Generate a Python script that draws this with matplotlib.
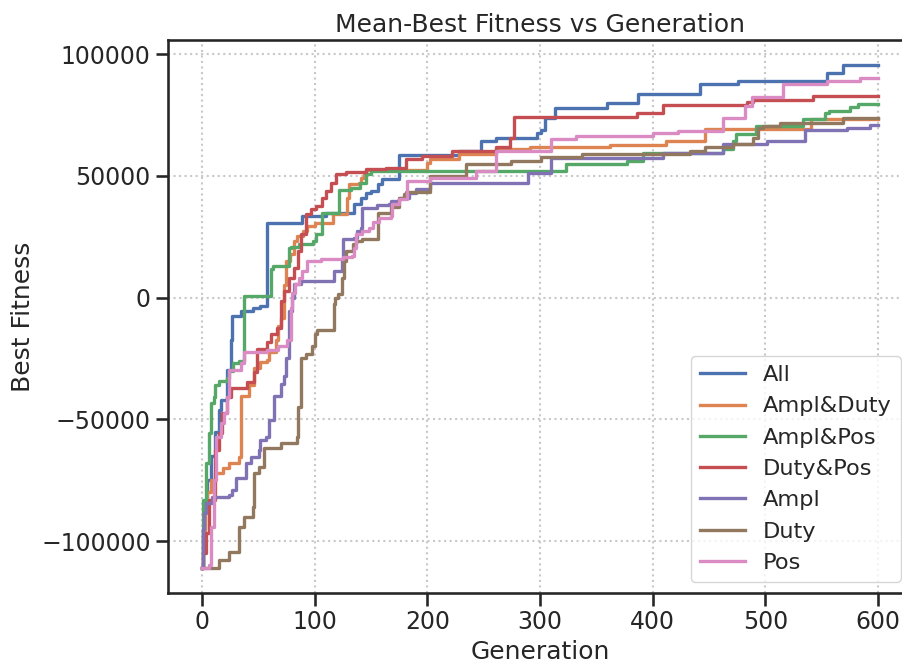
import matplotlib
matplotlib.use("Agg")
import matplotlib.pyplot as plt

# step breakpoints (generation, mean best fitness) for each parameter set
gen_all = [0, 1, 3, 5, 8, 12, 15, 17, 22, 26, 27, 35, 45, 52, 58, 89, 110, 135, 141, 146,
           150, 156, 160, 175, 228, 248, 261, 297, 301, 304, 313, 359, 387, 442, 476, 555, 569, 600]
fit_all = [-111000, -95000, -83000, -75000, -65000, -55000, -46300, -42000, -29900, -17600, -7400,
           -5300, -4100, -3300, 30500, 33600, 34800, 38500, 41000, 43000, 44000, 46700, 48800,
           58600, 60200, 64300, 65600, 67600, 69000, 73900, 77900, 79900, 83600, 87700, 88900,
           92200, 95500, 95500]

gen_ampl_duty = [0, 1, 3, 5, 8, 12, 19, 24, 33, 35, 42, 46, 52, 58, 60, 66, 68, 70, 73, 75, 78,
                 82, 84, 90, 93, 100, 116, 129, 131, 139, 141, 144, 146, 200, 202, 228, 261, 291,
                 362, 412, 446, 540, 600]
fit_ampl_duty = [-111000, -97000, -86000, -80000, -75000, -72000, -70000, -68000, -65600, -40200,
                 -36000, -28700, -26600, -25800, -22500, -17600, -11500, -8200, 5000, 15200, 18000,
                 23400, 25400, 27500, 29500, 30700, 34400, 41000, 46700, 47100, 49200, 50800,
                 52500, 55300, 57000, 59000, 61000, 61900, 62700, 64300, 69200, 73500, 73500]

gen_ampl_pos = [0, 1, 4, 6, 8, 11, 12, 15, 22, 24, 28, 33, 37, 61, 63, 77, 79, 86, 99, 101, 107,
                122, 132, 140, 146, 150, 323, 377, 391, 462, 471, 474, 492, 533, 553, 556, 575,
                582, 600]
fit_ampl_pos = [-111000, -83000, -68000, -55700, -43400, -41000, -36000, -34400, -33000, -30000,
                -27000, -26000, 800, 11900, 13100, 20500, 21000, 22100, 23400, 26200, 34800,
                44300, 45000, 47100, 50800, 52000, 54900, 56100, 59400, 61000, 64300, 67200,
                70500, 73400, 75800, 76500, 78300, 79500, 79500]

gen_duty_pos = [0, 1, 4, 6, 12, 15, 18, 22, 26, 40, 46, 49, 58, 61, 67, 70, 73, 77, 82, 85, 88,
                92, 97, 101, 107, 110, 115, 119, 128, 146, 163, 181, 195, 222, 261, 273, 277,
                386, 409, 484, 489, 542, 600]
fit_duty_pos = [-111000, -105000, -96700, -83000, -62700, -55700, -47500, -41000, -37300, -34800,
                -30700, -20900, -18400, -14800, -12300, -1200, 2900, 8200, 12300, 19300, 26200,
                34400, 36500, 37700, 41000, 43800, 47100, 50800, 51600, 52900, 53300, 57000,
                58200, 60200, 61900, 65600, 74200, 75800, 79100, 80300, 81100, 82800, 82800]

gen_ampl = [0, 1, 2, 4, 9, 24, 27, 30, 39, 44, 51, 52, 57, 60, 64, 70, 73, 75, 77, 80, 82, 88,
            117, 124, 125, 135, 138, 141, 142, 155, 166, 168, 175, 184, 190, 202, 289, 310, 409,
            462, 501, 535, 572, 593, 600]
fit_ampl = [-111000, -95000, -88500, -84400, -82000, -81100, -79000, -74200, -68000, -65600,
            -62700, -58600, -57400, -50400, -40200, -35300, -32000, -25000, -5300, 0, 5700, 7000,
            11100, 15200, 24200, 24600, 27500, 28700, 36900, 38100, 38500, 39800, 41000, 43000,
            44700, 47100, 51200, 57400, 59400, 63100, 64300, 68800, 69600, 70900, 70900]

gen_duty = [0, 15, 24, 33, 37, 45, 46, 51, 55, 70, 84, 85, 88, 92, 98, 100, 102, 117, 118, 121,
            124, 126, 128, 134, 137, 142, 156, 168, 175, 179, 181, 202, 234, 274, 301, 337, 433,
            446, 471, 489, 493, 498, 513, 569, 600]
fit_duty = [-111000, -107800, -104500, -94200, -90200, -86000, -72100, -69700, -61900, -59800,
            -57400, -45100, -24600, -23000, -19700, -14800, -13500, -2500, 0, 1600, 8200, 15200,
            19300, 22100, 23400, 24200, 34800, 37300, 41000, 42600, 43400, 50000, 54900, 56100,
            57800, 59000, 60200, 61900, 63100, 65600, 69600, 70500, 71700, 73800, 73800]

gen_pos = [0, 6, 8, 11, 13, 17, 20, 22, 24, 35, 37, 58, 68, 76, 79, 80, 83, 86, 89, 93, 106, 125,
           133, 135, 137, 142, 148, 152, 157, 168, 169, 175, 182, 202, 243, 261, 310, 332, 400,
           422, 462, 482, 488, 516, 555, 584, 600]
fit_pos = [-111000, -110000, -94200, -75000, -57400, -51600, -47500, -41000, -29900, -27000,
           -22500, -21700, -19700, -17600, -4100, 2000, 5700, 8200, 11100, 15200, 16000, 16800,
           17200, 20500, 26200, 27500, 28700, 31000, 32800, 33600, 38500, 40600, 47900, 49200,
           52000, 60200, 65200, 66400, 67600, 68400, 73800, 78700, 82400, 87700, 88900, 90200,
           90200]

labels = ["All", "Ampl&Duty", "Ampl&Pos", "Duty&Pos", "Ampl", "Duty", "Pos"]
colors = ["#4C72B0", "#DD8452", "#55A868", "#C44E52", "#8172B3", "#937860", "#DA8BC3"]
runs = [(gen_all, fit_all), (gen_ampl_duty, fit_ampl_duty), (gen_ampl_pos, fit_ampl_pos),
        (gen_duty_pos, fit_duty_pos), (gen_ampl, fit_ampl), (gen_duty, fit_duty),
        (gen_pos, fit_pos)]

plt.rcParams.update({
    "font.family": "DejaVu Sans",
    "text.color": "#262626",
    "axes.labelcolor": "#262626",
    "xtick.color": "#262626",
    "ytick.color": "#262626",
    "axes.edgecolor": "#262626",
    "axes.linewidth": 1.875,
    "xtick.major.width": 1.875,
    "ytick.major.width": 1.875,
    "xtick.major.size": 9,
    "ytick.major.size": 9,
})

fig = plt.figure(figsize=(9.02, 6.68), dpi=100)
ax = fig.add_axes([168 / 902, 1 - 593 / 668, (912 - 168) / 902, (593 - 40) / 668])

for (g, f), lab, c in zip(runs, labels, colors):
    ax.step(g, f, where="post", label=lab, color=c, linewidth=2.4)

ax.grid(True, linestyle=":", color="#c8c8c8", linewidth=1.5)
ax.set_xticks([0, 100, 200, 300, 400, 500, 600])
ax.set_yticks([-100000, -50000, 0, 50000, 100000])
ax.tick_params(labelsize=17)
ax.set_xlabel("Generation", fontsize=18)
ax.set_ylabel("Best Fitness", fontsize=18)
ax.set_title("Mean-Best Fitness vs Generation", fontsize=18)

ax.legend(loc="lower right", fontsize=16.2, handlelength=2)

fig.savefig("out.png", dpi=100)
